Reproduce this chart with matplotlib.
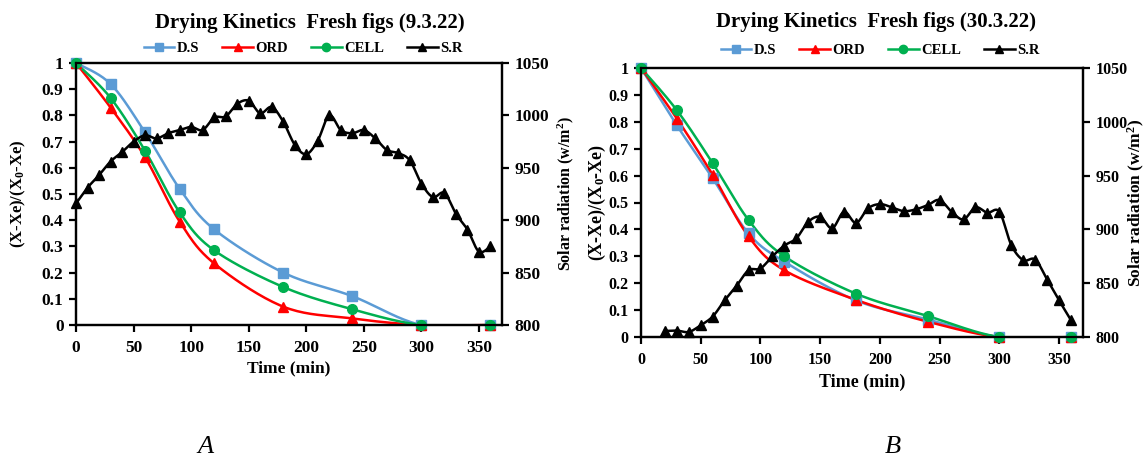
import numpy as np
import matplotlib
matplotlib.use("Agg")
import matplotlib.pyplot as plt
from matplotlib.lines import Line2D

plt.rcParams['font.family'] = ['Liberation Serif', 'DejaVu Serif']
plt.rcParams['font.weight'] = 'bold'
plt.rcParams['mathtext.fontset'] = 'custom'
plt.rcParams['mathtext.rm'] = 'Liberation Serif:bold'
plt.rcParams['mathtext.it'] = 'Liberation Serif:bold'
plt.rcParams['mathtext.bf'] = 'Liberation Serif:bold'

# ---------------- data ----------------
time_dry = [0, 30, 60, 90, 120, 180, 240, 300, 360]

# Chart A (9.3.22)
ds_a = [1, 0.92, 0.735, 0.52, 0.365, 0.20, 0.11, 0, 0]
ord_a = [1, 0.83, 0.64, 0.395, 0.235, 0.07, 0.025, 0, 0]
cell_a = [1, 0.867, 0.665, 0.43, 0.285, 0.145, 0.06, 0, 0]
time_sr_a = list(range(0, 361, 10))
sr_a = [916, 931, 943, 956, 965, 975, 981, 978, 983, 986, 989, 986, 998, 999,
        1011, 1014, 1002, 1008, 994, 972, 963, 976, 1000, 986, 983, 986, 978,
        967, 964, 957, 935, 922, 926, 906, 891, 870, 875]

# Chart B (30.3.22)
ds_b = [1, 0.787, 0.59, 0.385, 0.28, 0.136, 0.065, 0, 0]
ord_b = [1, 0.812, 0.603, 0.374, 0.248, 0.138, 0.057, 0, 0]
cell_b = [1, 0.843, 0.646, 0.435, 0.30, 0.161, 0.078, 0, 0]
time_sr_b = list(range(20, 361, 10))
sr_b = [805.6, 806, 804.7, 811, 819, 834, 847.5, 862, 863.7, 875, 885, 891.6,
        907, 911.7, 901, 916.4, 906, 919.5, 923.5, 920.5, 917, 918.6, 922.6,
        927.3, 916.4, 909.3, 920.5, 915.5, 916.4, 885.4, 871.4, 872, 853.4,
        834, 815.5]

titles = ["Drying Kinetics  Fresh figs (9.3.22)", "Drying Kinetics  Fresh figs (30.3.22)"]
panel_labels = ["A", "B"]
legend_labels = ["D.S", "ORD", "CELL", "S.R"]
x_ticks = [0, 50, 100, 150, 200, 250, 300, 350]
y_ticks = [0, 0.1, 0.2, 0.3, 0.4, 0.5, 0.6, 0.7, 0.8, 0.9, 1]
y_tick_labels = ["0", "0.1", "0.2", "0.3", "0.4", "0.5", "0.6", "0.7", "0.8", "0.9", "1"]
sr_ticks = [800, 850, 900, 950, 1000, 1050]

C_DS = "#5B9BD5"
C_ORD = "#FF0000"
C_CELL = "#00B050"
C_SR = "#000000"


def smooth(xs, ys, n=20):
    """Excel-like smoothed line (uniform Catmull-Rom) through the given points."""
    p = np.column_stack([xs, ys]).astype(float)
    p = np.vstack([p[0], p, p[-1]])
    out = []
    for i in range(1, len(p) - 2):
        p0, p1, p2, p3 = p[i - 1], p[i], p[i + 1], p[i + 2]
        t = np.linspace(0, 1, n, endpoint=False)[:, None]
        seg = 0.5 * ((2 * p1) + (-p0 + p2) * t + (2 * p0 - 5 * p1 + 4 * p2 - p3) * t ** 2
                     + (-p0 + 3 * p1 - 3 * p2 + p3) * t ** 3)
        out.append(seg)
    out.append(p[-2][None, :])
    out = np.vstack(out)
    return out[:, 0], out[:, 1]


W, H = 1146, 463
fig = plt.figure(figsize=(W / 100, H / 100), dpi=100)


def rect(x0, x1, ytop, ybot):
    return [x0 / W, 1 - ybot / H, (x1 - x0) / W, (ybot - ytop) / H]


panels = [
    dict(px=(76, 502, 63, 325), ds=ds_a, ord=ord_a, cell=cell_a,
         tsr=time_sr_a, sr=sr_a, ylab_l=18, ylab_r=566, title=(310, 23), leg=(303, 48),
         tick_fs=12.5, xlab_fs=12.5, ylab_l_fs=12, ylab_r_fs=11.5, xlab_pad=3),
    dict(px=(641, 1083, 68, 337), ds=ds_b, ord=ord_b, cell=cell_b,
         tsr=time_sr_b, sr=sr_b, ylab_l=597, ylab_r=1136, title=(876, 21.5), leg=(880, 50.5),
         tick_fs=11.5, xlab_fs=13, ylab_l_fs=13, ylab_r_fs=12.5, xlab_pad=4),
]

for k, pnl in enumerate(panels):
    x0, x1, yt, yb = pnl['px']
    ax = fig.add_axes(rect(x0, x1, yt, yb))
    ax2 = ax.twinx()

    series = [(pnl['ds'], C_DS, 's', 7),
              (pnl['ord'], C_ORD, '^', 7),
              (pnl['cell'], C_CELL, 'o', 7)]
    handles = []
    for vals, col, mk, ms in series:
        sx, sy = smooth(time_dry, vals)
        ax.plot(sx, sy, color=col, lw=1.8, zorder=3)
        ax.plot(time_dry, vals, linestyle='none', marker=mk, ms=ms, color=col,
                zorder=4, clip_on=False)
        handles.append(Line2D([0], [0], color=col, lw=1.8, marker=mk, ms=6))

    sx, sy = smooth(pnl['tsr'], pnl['sr'])
    ax2.plot(sx, sy, color=C_SR, lw=1.8, zorder=3)
    ax2.plot(pnl['tsr'], pnl['sr'], linestyle='none', marker='^', ms=6.5,
             color=C_SR, zorder=4, clip_on=False)
    handles.append(Line2D([0], [0], color=C_SR, lw=1.8, marker='^', ms=6))

    ax.set_xlim(0, 370)
    ax.set_ylim(0, 1)
    ax2.set_ylim(800, 1050)
    ax.set_xticks(x_ticks)
    ax.set_yticks(y_ticks)
    ax.set_yticklabels(y_tick_labels)
    ax2.set_yticks(sr_ticks)

    for a in (ax, ax2):
        for s in a.spines.values():
            s.set_linewidth(1.6)
            s.set_color('black')
        a.tick_params(labelsize=pnl['tick_fs'], width=1.6, length=5, direction='out', pad=4)
        for lab in a.get_xticklabels() + a.get_yticklabels():
            lab.set_fontweight('bold')
    ax.tick_params(axis='x', pad=6)

    ax.set_xlabel("Time (min)", fontsize=pnl['xlab_fs'], fontweight='bold',
                  labelpad=pnl['xlab_pad'])
    ax.set_ylabel("(X-Xe)/(X$_0$-Xe)", fontsize=pnl['ylab_l_fs'], fontweight='bold')
    ax2.set_ylabel("Solar radiation (w/m$^2$)", fontsize=pnl['ylab_r_fs'], fontweight='bold')
    ax.yaxis.set_label_coords((pnl['ylab_l'] - x0) / (x1 - x0), 0.5)
    ax2.yaxis.set_label_coords((pnl['ylab_r'] - x0) / (x1 - x0), 0.5)
    ax.yaxis.label.set_va('center')
    ax2.yaxis.label.set_va('center')

    tx, ty = pnl['title']
    fig.text(tx / W, 1 - ty / H, titles[k], ha='center', va='center',
             fontsize=15, fontweight='bold')
    lx, ly = pnl['leg']
    fig.legend(handles, legend_labels, loc='center',
               bbox_to_anchor=(lx / W, 1 - ly / H), ncol=4,
               frameon=False, fontsize=10.5, handlelength=2.1, columnspacing=1.6,
               handletextpad=0.15, borderpad=0)
    fig.text((205 if k == 0 else 893) / W, 1 - 447 / H, panel_labels[k], ha='center',
             va='center', fontsize=19, fontstyle='italic', fontweight='normal')

fig.savefig("out.png", dpi=100)
